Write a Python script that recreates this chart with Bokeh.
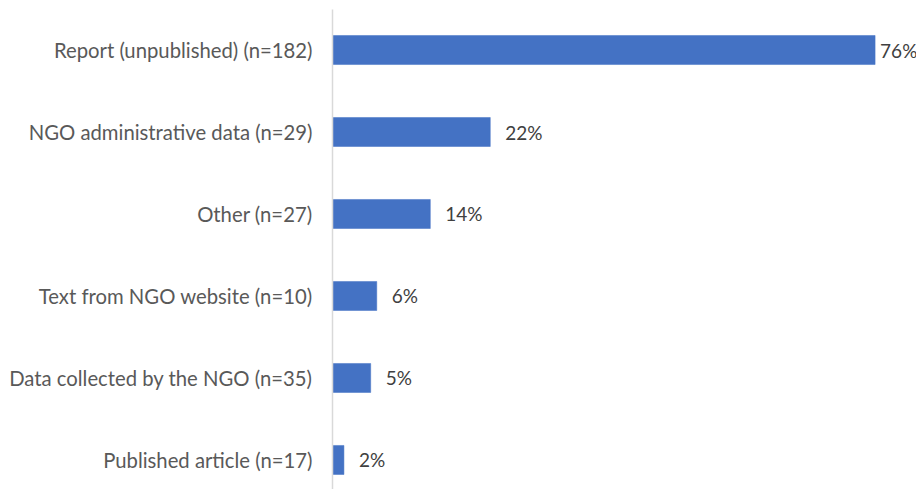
from bokeh.plotting import figure
from bokeh.models import ColumnDataSource, Range1d, FixedTicker
from bokeh.embed import file_html
from bokeh.resources import INLINE
from bokeh.core.properties import value

categories = [
    "Report (unpublished) (n=182)",
    "NGO administrative data (n=29)",
    "Other (n=27)",
    "Text from NGO website (n=10)",
    "Data collected by the NGO (n=35)",
    "Published article (n=17)",
]
percentages = [76.0, 22.1, 13.7, 6.2, 5.35, 1.6]

FONT = "Lato"
LABEL_COLOR = "#595959"
VALUE_COLOR = "#404040"
BAR_COLOR = "#4472C4"

n = len(categories)
ypos = [n - 1 - i for i in range(n)]          # first category on top
labels = [f"{round(v):d}%" for v in percentages]
offsets = [5 if v == max(percentages) else 15 for v in percentages]

source = ColumnDataSource(dict(y=ypos, pct=percentages, lab=labels, off=offsets))

p = figure(width=916, height=489,
           x_range=Range1d(0, 81.8), y_range=Range1d(-0.36, n - 1 + 0.494),
           output_backend="svg", toolbar_location=None,
           min_border_left=332, min_border_right=0, min_border_top=9, min_border_bottom=0)

p.hbar(y="y", right="pct", left=0, height=0.354, source=source,
       fill_color=BAR_COLOR, line_color=BAR_COLOR, line_width=0.5)

p.text(x="pct", y="y", text="lab", x_offset="off", source=source,
       text_align="left", text_baseline="middle",
       text_font=value(FONT), text_font_size="19px", text_color=VALUE_COLOR)

p.xaxis.visible = False
yax = p.yaxis[0]
yax.ticker = FixedTicker(ticks=ypos)
yax.major_label_overrides = {y: c for y, c in zip(ypos, categories)}
yax.axis_line_color = "#D9D9D9"
yax.axis_line_width = 1.5
yax.major_tick_line_color = None
yax.minor_tick_line_color = None
yax.major_tick_out = 0
yax.major_tick_in = 0
yax.major_label_standoff = 20
yax.major_label_text_font = FONT
yax.major_label_text_font_size = "20.3px"
yax.major_label_text_color = LABEL_COLOR

p.xgrid.visible = False
p.ygrid.visible = False
p.outline_line_color = None
p.background_fill_color = "white"
p.border_fill_color = "white"

open("out.html", "w").write(file_html(p, INLINE))
